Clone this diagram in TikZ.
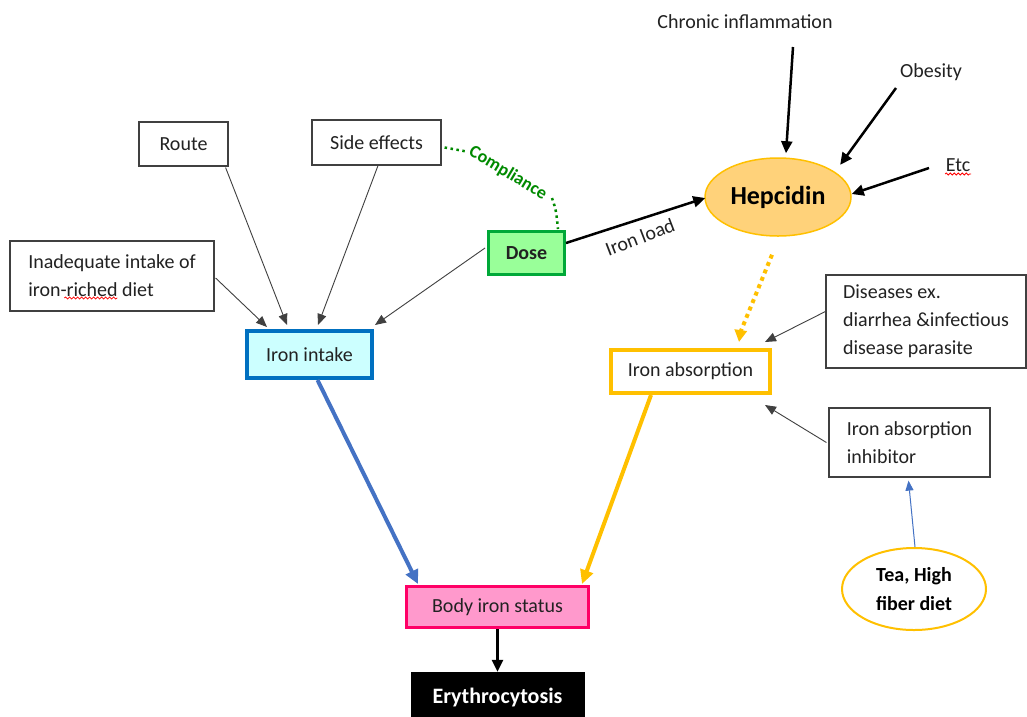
\documentclass[tikz,border=0pt]{standalone}
\usepackage{fontspec}
\setmainfont{Carlito}
\usetikzlibrary{arrows.meta,calc,shapes.geometric,decorations.pathmorphing}
\definecolor{txt}{HTML}{222222}
\definecolor{boxgray}{HTML}{404040}
\definecolor{arrgray}{HTML}{404040}
\definecolor{intakefill}{HTML}{CCFFFF}
\definecolor{intakeline}{HTML}{0070C0}
\definecolor{dosefill}{HTML}{99FF99}
\definecolor{doseline}{HTML}{00A838}
\definecolor{hepfill}{HTML}{FFD27A}
\definecolor{gold}{HTML}{FFC000}
\definecolor{bodyfill}{HTML}{FF99CC}
\definecolor{bodyline}{HTML}{FF0066}
\definecolor{bluearr}{HTML}{4472C4}
\definecolor{compgreen}{HTML}{008A00}
\begin{document}
\begin{tikzpicture}[x=1pt,y=-1pt,
  base/.style={font=\fontsize{20}{28}\selectfont, text=txt},
  box/.style={base, draw=boxgray, line width=1.2pt, fill=white, inner sep=0pt, align=left},
  plain/.style={base, inner sep=0pt},
  thinarr/.style={draw=arrgray, line width=0.9pt, -{Triangle[length=11pt,width=9pt]}},
  bigarr/.style={draw=black, line width=2.5pt, -{Triangle[length=12pt,width=11pt]}},
  fatarr/.style={line width=4pt, -{Triangle[length=14pt,width=13pt]}},
  squig/.style={draw=red, line width=0.8pt, decorate, decoration={snake, amplitude=1pt, segment length=4pt}}
]
\useasboundingbox (0,0) rectangle (1027,716);
\fill[white] (0,0) rectangle (1027,716);

% nodes
\node[box, minimum width=89, minimum height=44] (route) at (183.5,144) {Route};
\node[box, minimum width=129, minimum height=45] (side) at (376.5,142.5) {Side effects};
\node[box, minimum width=204, minimum height=70] (inad) at (112,276) {Inadequate intake of\\iron-riched diet};
\node[box, draw=intakeline, fill=intakefill, line width=4pt, minimum width=125, minimum height=47] (intake) at (309.5,354.5) {Iron intake};
\node[box, draw=doseline, fill=dosefill, line width=3pt, minimum width=76, minimum height=43, font=\fontsize{20}{24}\selectfont\bfseries] (dose) at (526.5,253) {Dose};
\node[ellipse, draw=gold, fill=hepfill, line width=1.5pt, minimum width=146, minimum height=78, inner sep=0pt, text=black, font=\fontsize{26}{30}\selectfont\bfseries] (hep) at (778,197) {Hepcidin};
\node[plain] (chronic) at (745,22) {Chronic inflammation};
\node[plain] (obesity) at (931,72) {Obesity};
\node[plain] (etc) at (958,165) {Etc};
\node[box, minimum width=200, minimum height=93] (dis) at (926,321.5) {Diseases ex.\\diarrhea \&infectious\\disease parasite};
\node[box, draw=gold, line width=4pt, minimum width=159, minimum height=43] (absorb) at (690.5,371.5) {Iron absorption};
\node[box, minimum width=161, minimum height=69] (inhib) at (909.5,442.5) {Iron absorption\hspace{1.2em}\\inhibitor};
\node[ellipse, draw=gold, fill=white, line width=2pt, minimum width=144, minimum height=82, inner sep=0pt, align=center, text=black, font=\fontsize{20}{29}\selectfont\bfseries] (tea) at (914,589) {Tea, High\\fiber diet};
\node[box, draw=bodyline, fill=bodyfill, line width=3pt, minimum width=182, minimum height=41] (body) at (497.5,607) {Body iron status};
\node[draw=black, fill=black, inner sep=0pt, minimum width=173, minimum height=50, text=white, font=\fontsize{22}{26}\selectfont\bfseries] (ery) at (497.5,697) {Erythrocytosis};

% spell-check squiggles
\draw[squig] ($(inad.west)+(55,22)$) -- ($(inad.west)+(108,22)$);
\draw[squig] ($(etc)+(-13,9)$) -- ($(etc)+(13,9)$);

% thin arrows into iron intake
\draw[thinarr] ($(inad.east)+(1,2)$) -- ($(intake.north west)+(22,-2)$);
\draw[thinarr] ($(route.south east)+(-3,1)$) -- ($(intake.north west)+(42,-4)$);
\draw[thinarr] ($(side.south)+(1.5,0)$) -- ($(intake.north west)+(73,-4)$);
\draw[thinarr] ($(dose.west)+(-2,-5)$) -- ($(intake.north east)+(1,-4)$);

% compliance
\draw[compgreen, line width=2.5pt, dash pattern=on 2.5pt off 3.5pt] ($(side.east)+(3,5)$) -- ($(side.east)+(25,9)$);
\node[rotate=-31, text=compgreen, inner sep=0pt, font=\fontsize{18}{20}\selectfont\bfseries] (comp) at (508,173) {Compliance};
\draw[compgreen, line width=2.5pt, dash pattern=on 2.5pt off 3.5pt] ($(dose.north east)+(-14,-32)$) .. controls ($(dose.north east)+(-10,-20)$) .. ($(dose.north east)+(-8,-1)$);

% hepcidin inputs
\draw[bigarr] ($(chronic)+(48,25)$) -- ($(hep.north)+(8,-4)$);
\draw[bigarr] ($(obesity)+(-35,16)$) -- ($(hep.north east)+(10,-4)$);
\draw[bigarr] ($(etc)+(-29,3)$) -- ($(hep.east)+(0,-3)$);
\draw[bigarr] ($(dose.east)+(0,-10)$) -- ($(hep.west)+(1,1)$);
\node[rotate=21, text=txt, inner sep=0pt, font=\fontsize{20}{22}\selectfont] (ironload) at ($(dose.east)+(74,-16)$) {Iron load};

% hepcidin to absorption
\draw[gold, line width=4pt, dash pattern=on 4pt off 4pt] ($(hep.south)+(-6,18)$) -- ($(absorb.north)+(50,-16)$);
\draw[gold, line width=4pt, -{Triangle[length=12pt,width=12pt]}] ($(absorb.north)+(50,-16)$) -- ($(absorb.north)+(48.5,-6)$);

% into absorption
\draw[thinarr] ($(dis.west)+(0,-10)$) -- ($(absorb.north east)+(-7,-6)$);
\draw[thinarr] ($(inhib.west)+(-2,0)$) -- ($(absorb.south east)+(-7,10)$);
\draw[bluearr, line width=1pt, -{Triangle[length=10pt,width=8pt]}] ($(tea.north)+(1,0)$) -- ($(inhib.south)+(-1,3)$);

% to body iron status
\draw[fatarr, bluearr] ($(intake.south)+(8,0)$) -- ($(body.north west)+(13,-1)$);
\draw[fatarr, gold] ($(absorb.south west)+(42,0)$) -- ($(body.north east)+(-8,-1)$);
\draw[bigarr] (body.south) -- (ery.north);
\end{tikzpicture}
\end{document}
